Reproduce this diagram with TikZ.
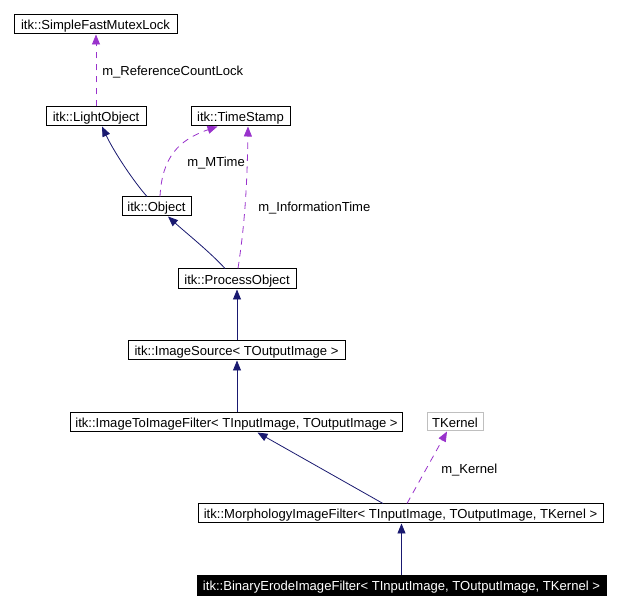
\documentclass[tikz,border=0pt]{standalone}
\usepackage{fontspec}
\setmainfont{Liberation Sans}
\usetikzlibrary{arrows.meta,calc}
\definecolor{edgeblue}{RGB}{25,25,112}
\definecolor{edgepurple}{RGB}{153,50,204}
\definecolor{boxgray}{RGB}{191,191,191}
\tikzset{
  x=0.75pt,y=-0.75pt,
  cls/.style={draw=black,line width=0.75pt,fill=white,inner sep=0pt,text height=9.6pt,text depth=1.4pt,font=\fontsize{9.8pt}{11pt}\selectfont},
  clsgray/.style={cls,draw=boxgray},
  clsmain/.style={cls,fill=black,text=white},
  inh/.style={draw=edgeblue,line width=0.6pt,-{Triangle[length=7.5pt,width=6pt]}},
  use/.style={draw=edgepurple,line width=0.6pt,dash pattern=on 5pt off 4pt,-{Triangle[length=7.5pt,width=6pt]}},
  lbl/.style={anchor=west,inner sep=0pt,text height=9.6pt,text depth=1.4pt,font=\fontsize{9.8pt}{11pt}\selectfont}
}
\begin{document}
\begin{tikzpicture}
\useasboundingbox[fill=white] (0,0) rectangle (618,609);
\node[cls,minimum width=122.25pt,minimum height=14.25pt] (mutex) at (95.5,24.5) {itk::SimpleFastMutexLock};
\node[cls,minimum width=75pt,minimum height=14.25pt] (light) at (96,116.5) {itk::LightObject};
\node[cls,minimum width=74.25pt,minimum height=14.25pt] (ts) at (240.5,116.5) {itk::TimeStamp};
\node[cls,minimum width=51.75pt,minimum height=14.25pt] (obj) at (156.5,206.5) {itk::Object};
\node[cls,minimum width=88.5pt,minimum height=15pt] (po) at (237,279) {itk::ProcessObject};
\node[cls,minimum width=162.75pt,minimum height=14.25pt] (is) at (236.5,350.5) {itk::ImageSource< TOutputImage >};
\node[cls,minimum width=249pt,minimum height=14.25pt] (i2i) at (236.5,422.5) {itk::ImageToImageFilter< TInputImage, TOutputImage >};
\node[clsgray,minimum width=42pt,minimum height=13.5pt] (tk) at (455,422) {TKernel};
\node[cls,minimum width=303.75pt,minimum height=14.25pt] (morph) at (400.5,513.5) {itk::MorphologyImageFilter< TInputImage, TOutputImage, TKernel >};
\node[clsmain,minimum width=306.75pt,minimum height=15pt] (be) at (401.5,585) {itk::BinaryErodeImageFilter< TInputImage, TOutputImage, TKernel >};

% LightObject -> SimpleFastMutexLock
\draw[use] (light.north) -- (light.north |- mutex.south);
\node[lbl] (l1) at (102,70) {m\_ReferenceCountLock};

% Object -> LightObject
\draw[inh] ($(obj.north)+(-9.5,0)$) .. controls (134,182) and (114,152) .. ($(light.south)+(6,0)$);
% Object -> TimeStamp
\draw[use] ($(obj.north)+(3.5,0)$) .. controls (162,158) and (178,140) .. ($(ts.south)+(-23,0)$);
\node[lbl] (l2) at (187,161) {m\_MTime};

% ProcessObject -> Object
\draw[inh] ($(po.north)+(-12,0)$) .. controls (210,252) and (185,232) .. ($(obj.south)+(11.5,0)$);
% ProcessObject -> TimeStamp
\draw[use] ($(po.north)+(1,0)$) .. controls (243,235) and (247,200) .. ($(ts.south)+(7.5,0)$);
\node[lbl] (l3) at (258,206) {m\_InformationTime};

% ImageSource -> ProcessObject
\draw[inh] (is.north -| po.south) -- (po.south);
% ImageToImageFilter -> ImageSource
\draw[inh] (i2i.north -| po.south) -- (is.south -| po.south);

% Morphology -> ImageToImageFilter
\draw[inh] ($(morph.north)+(-17.5,0)$) -- ($(i2i.south)+(21,0)$);
% Morphology -> TKernel
\draw[use] ($(morph.north)+(6.5,0)$) -- ($(tk.south)+(-8,0)$);
\node[lbl] (l4) at (441,468) {m\_Kernel};

% BinaryErode -> Morphology
\draw[inh] (be.north) -- (morph.south -| be.north);
\end{tikzpicture}
\end{document}
